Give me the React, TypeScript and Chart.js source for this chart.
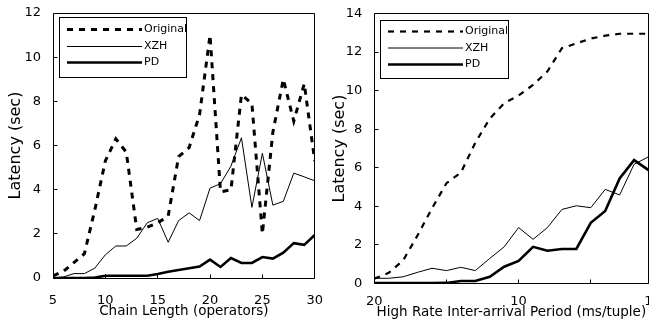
import React, { useEffect, useRef } from 'react';
import { Chart, registerables } from 'chart.js';

Chart.register(...registerables);

// ---------- Left chart data ----------
const chainLength = [5, 6, 7, 8, 9, 10, 11, 12, 13, 14, 15, 16, 17, 18, 19, 20, 21, 22, 23, 24, 25, 26, 27, 28, 29, 30];
const chainOriginal = [0.1, 0.3, 0.7, 1.1, 3.1, 5.3, 6.3, 5.7, 2.2, 2.3, 2.5, 2.8, 5.5, 5.9, 7.4, 11.0, 3.9, 4.0, 8.3, 7.9, 2.0, 6.6, 9.0, 7.1, 8.8, 5.3];
const chainXZH = [0.0, 0.05, 0.2, 0.2, 0.45, 1.05, 1.45, 1.45, 1.8, 2.5, 2.7, 1.62, 2.6, 2.95, 2.6, 4.07, 4.27, 5.07, 6.35, 3.2, 5.65, 3.3, 3.47, 4.75, 4.58, 4.4];
const chainPD = [0, 0, 0, 0, 0.02, 0.1, 0.1, 0.1, 0.1, 0.1, 0.18, 0.28, 0.36, 0.44, 0.52, 0.83, 0.5, 0.9, 0.68, 0.68, 0.95, 0.88, 1.15, 1.58, 1.5, 1.95];
const chainXTicks = [5, 10, 15, 20, 25, 30];
const chainYTicks = [0, 2, 4, 6, 8, 10, 12];

// ---------- Right chart data ----------
const period = [20, 19, 18, 17, 16, 15, 14, 13, 12, 11, 10, 9, 8, 7, 6, 5, 4, 3, 2, 1];
const periodOriginal = [0.25, 0.55, 1.2, 2.5, 3.9, 5.2, 5.75, 7.3, 8.55, 9.35, 9.75, 10.3, 11.0, 12.2, 12.45, 12.7, 12.85, 12.95, 12.95, 12.95];
const periodXZH = [0.27, 0.27, 0.35, 0.58, 0.79, 0.67, 0.84, 0.67, 1.3, 1.9, 2.9, 2.29, 2.9, 3.84, 4.03, 3.93, 4.88, 4.59, 6.18, 6.57];
const periodPD = [0.02, 0.02, 0.02, 0.02, 0.02, 0.03, 0.13, 0.13, 0.35, 0.87, 1.17, 1.9, 1.7, 1.79, 1.79, 3.15, 3.76, 5.45, 6.4, 5.88];
const periodXLabels = [20, 10, 1];
const periodXMarks = [20, 15, 10, 5, 1];
const periodYTicks = [0, 2, 4, 6, 8, 10, 12, 14];

const seriesNames = ['Original', 'XZH', 'PD'];

const FONT = '"DejaVu Sans", "Liberation Sans", Arial, sans-serif';

const frameTicksPlugin = {
  id: 'frameTicks',
  afterDatasetsDraw(chart: any, _args: any, opts: any) {
    const { ctx, chartArea: a, scales } = chart;
    const len = opts.len || 4;
    const L = Math.floor(a.left) + 0.5;
    const R = Math.floor(a.right) + 0.5;
    const T = Math.floor(a.top) + 0.5;
    const B = Math.floor(a.bottom) + 0.5;
    ctx.save();
    ctx.strokeStyle = '#000';
    ctx.lineWidth = 1;
    ctx.setLineDash([]);
    ctx.beginPath();
    ctx.rect(L, T, R - L, B - T);
    const xMarks: number[] = opts.xMarks || scales.x.ticks.map((t: any) => t.value);
    xMarks.forEach((v) => {
      const px = Math.floor(scales.x.getPixelForValue(v)) + 0.5;
      ctx.moveTo(px, B);
      ctx.lineTo(px, B - len);
    });
    const yMarks: number[] = scales.y.ticks.map((t: any) => t.value);
    yMarks.forEach((v) => {
      const py = Math.floor(scales.y.getPixelForValue(v)) + 0.5;
      ctx.moveTo(L, py);
      ctx.lineTo(L + len, py);
    });
    ctx.stroke();
    ctx.restore();
  },
};

const boxLegendPlugin = {
  id: 'boxLegend',
  afterDraw(chart: any, _args: any, o: any) {
    const ctx = chart.ctx;
    ctx.save();
    ctx.fillStyle = '#fff';
    ctx.fillRect(o.x, o.y, o.w, o.h);
    ctx.strokeStyle = '#000';
    ctx.lineWidth = 1;
    ctx.setLineDash([]);
    ctx.strokeRect(o.x + 0.5, o.y + 0.5, o.w, o.h);
    chart.data.datasets.forEach((ds: any, i: number) => {
      const y = o.rows[i];
      ctx.beginPath();
      ctx.setLineDash(ds.borderDash || []);
      ctx.lineWidth = ds.borderWidth;
      ctx.strokeStyle = ds.borderColor;
      ctx.moveTo(o.lineX0, y);
      ctx.lineTo(o.lineX1, y);
      ctx.stroke();
      ctx.setLineDash([]);
      ctx.fillStyle = '#000';
      ctx.font = `11px ${FONT}`;
      ctx.textBaseline = 'middle';
      ctx.textAlign = 'left';
      ctx.fillText(ds.label, o.textX, y);
    });
    ctx.restore();
  },
};

function makeDatasets(xs: number[], orig: number[], xzh: number[], pd: number[], origWidth: number) {
  const pts = (ys: number[]) => xs.map((x, i) => ({ x, y: ys[i] }));
  const base = { pointRadius: 0, tension: 0, fill: false, borderColor: '#000', backgroundColor: '#000' };
  return [
    { ...base, label: seriesNames[0], data: pts(orig), borderWidth: origWidth, borderDash: [6, 6] },
    { ...base, label: seriesNames[1], data: pts(xzh), borderWidth: 1 },
    { ...base, label: seriesNames[2], data: pts(pd), borderWidth: 2.6 },
  ];
}

function leftConfig(): any {
  return {
    type: 'line',
    data: { datasets: makeDatasets(chainLength, chainOriginal, chainXZH, chainPD, 3) },
    options: {
      animation: false,
      responsive: false,
      events: [],
      layout: { padding: { top: 13, right: 14, left: 0, bottom: 0 } },
      plugins: {
        legend: { display: false },
        tooltip: { enabled: false },
        frameTicks: { len: 4 },
        boxLegend: { x: 59, y: 17, w: 127, h: 60, lineX0: 67, lineX1: 142, textX: 144, rows: [29.5, 46.5, 62.5] },
      },
      scales: {
        x: {
          type: 'linear',
          min: 5,
          max: 30,
          afterBuildTicks: (s: any) => { s.ticks = chainXTicks.map((v) => ({ value: v })); },
          afterFit: (s: any) => { s.height = 47; },
          grid: { display: false },
          border: { display: false },
          ticks: { color: '#000', font: { family: FONT, size: 13 }, padding: 7, maxRotation: 0, autoSkip: false },
          title: { display: true, text: 'Chain Length (operators)', color: '#000', font: { family: FONT, size: 13.5 }, padding: { top: 0, bottom: 5.5 } },
        },
        y: {
          type: 'linear',
          min: 0,
          max: 12,
          afterBuildTicks: (s: any) => { s.ticks = chainYTicks.map((v) => ({ value: v })); },
          afterFit: (s: any) => { s.width = 53; },
          grid: { display: false },
          border: { display: false },
          ticks: { color: '#000', font: { family: FONT, size: 13 }, padding: 4 },
          title: { display: true, text: 'Latency (sec)', color: '#000', font: { family: FONT, size: 16 }, padding: { top: 6, bottom: 0 } },
        },
      },
    },
    plugins: [frameTicksPlugin, boxLegendPlugin],
  };
}

function rightConfig(): any {
  return {
    type: 'line',
    data: { datasets: makeDatasets(period, periodOriginal, periodXZH, periodPD, 2.2) },
    options: {
      animation: false,
      responsive: false,
      events: [],
      layout: { padding: { top: 13.5, right: 15.5, left: 0, bottom: 0 } },
      plugins: {
        legend: { display: false },
        tooltip: { enabled: false },
        frameTicks: { len: 4, xMarks: periodXMarks },
        boxLegend: { x: 56, y: 20, w: 128, h: 58, lineX0: 64, lineX1: 139, textX: 141, rows: [31.5, 48, 64.5] },
      },
      scales: {
        x: {
          type: 'linear',
          reverse: true,
          min: 1,
          max: 20,
          afterBuildTicks: (s: any) => { s.ticks = periodXLabels.map((v) => ({ value: v })); },
          afterFit: (s: any) => { s.height = 41.5; },
          grid: { display: false },
          border: { display: false },
          ticks: { color: '#000', font: { family: FONT, size: 13 }, padding: 2, maxRotation: 0, autoSkip: false },
          title: { display: true, text: 'High Rate Inter-arrival Period (ms/tuple)', color: '#000', font: { family: FONT, size: 13.5 }, padding: { top: 0, bottom: 4 } },
        },
        y: {
          type: 'linear',
          min: 0,
          max: 14,
          afterBuildTicks: (s: any) => { s.ticks = periodYTicks.map((v) => ({ value: v })); },
          afterFit: (s: any) => { s.width = 50.3; },
          grid: { display: false },
          border: { display: false },
          ticks: { color: '#000', font: { family: FONT, size: 13 }, padding: 4 },
          title: { display: true, text: 'Latency (sec)', color: '#000', font: { family: FONT, size: 16 }, padding: { top: 6, bottom: 0 } },
        },
      },
    },
    plugins: [frameTicksPlugin, boxLegendPlugin],
  };
}

function ChartCanvas({ makeConfig, left, width }: { makeConfig: () => any; left: number; width: number }) {
  const ref = useRef<HTMLCanvasElement | null>(null);
  useEffect(() => {
    if (!ref.current) return;
    const chart = new Chart(ref.current, makeConfig());
    return () => chart.destroy();
  }, [makeConfig]);
  return (
    <canvas
      ref={ref}
      width={width}
      height={325}
      style={{ position: 'absolute', left, top: 0, width, height: 325, display: 'block' }}
    />
  );
}

export default function App() {
  return (
    <div style={{ position: 'fixed', left: 0, top: 0, width: 649, height: 325, overflow: 'hidden', background: '#fff' }}>
      <ChartCanvas makeConfig={leftConfig} left={0} width={330} />
      <ChartCanvas makeConfig={rightConfig} left={324} width={340} />
    </div>
  );
}
